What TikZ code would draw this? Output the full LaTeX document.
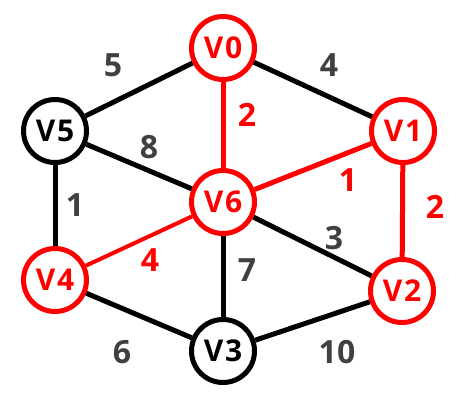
\documentclass[tikz,border=0pt]{standalone}
\usepackage{fontspec}
\setmainfont{Open Sans}
\definecolor{lbl}{HTML}{404040}
\definecolor{hot}{HTML}{FF0000}
\begin{document}
\begin{tikzpicture}[x=1pt,y=-1pt,
  vtx/.style={circle,draw=black,line width=5pt,minimum size=63pt,inner sep=0pt,font=\fontsize{30}{30}\selectfont\bfseries\addfontfeatures{LetterSpace=6},text=black},
  hv/.style={vtx,draw=hot,text=hot},
  edge/.style={line width=5pt,black},
  hedge/.style={line width=5pt,hot},
  wt/.style={font=\fontsize{32}{32}\selectfont\bfseries,text=lbl,inner sep=0pt},
  hwt/.style={wt,text=hot}]
\useasboundingbox (0,0) rectangle (465,415);
\node[hv] (v0) at (223,48) {V0};
\node[hv] (v1) at (403,131) {V1};
\node[hv] (v2) at (402,291) {V2};
\node[vtx] (v3) at (223,351) {V3};
\node[hv] (v4) at (55,280) {V4};
\node[vtx] (v5) at (55,131) {V5};
\node[hv] (v6) at (223,202) {V6};
\draw[edge] (v5) -- (v0);
\draw[edge] (v0) -- (v1);
\draw[hedge] (v0) -- (v6);
\draw[edge] (v5) -- (v6);
\draw[hedge] (v6) -- (v1);
\draw[hedge] (v1) -- (v2);
\draw[edge] (v5) -- (v4);
\draw[edge] (v6) -- (v2);
\draw[hedge,line width=4pt] (v4) -- (v6);
\draw[edge] (v6) -- (v3);
\draw[edge] (v4) -- (v3);
\draw[edge] (v3) -- (v2);
\node[wt] (w05) at (113,65) {5};
\node[wt] (w01) at (329,65) {4};
\node[hwt] (w06) at (247,115) {2};
\node[wt] (w56) at (149,147) {8};
\node[hwt] (w61) at (348,180) {1};
\node[hwt] (w12) at (435,207) {2};
\node[wt] (w54) at (75,205) {1};
\node[wt] (w62) at (334,238) {3};
\node[hwt] (w46) at (150,260) {4};
\node[wt] (w63) at (247,270) {7};
\node[wt] (w43) at (122,352) {6};
\node[wt] (w32) at (337,352) {10};
\end{tikzpicture}
\end{document}
